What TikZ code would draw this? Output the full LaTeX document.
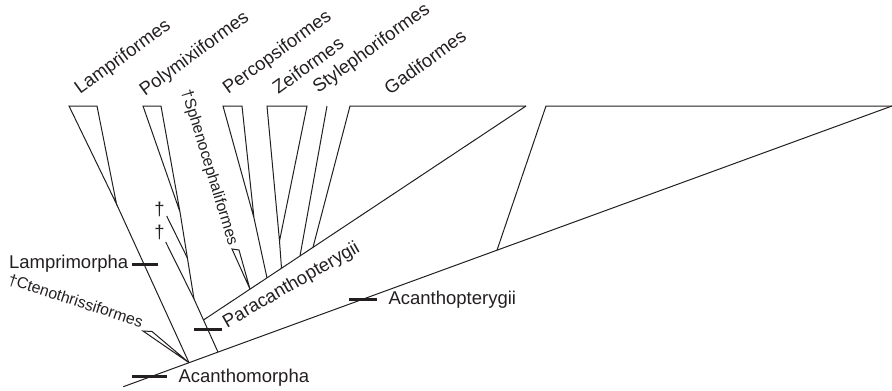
\documentclass[tikz,border=0pt]{standalone}
\usepackage{fontspec}
\setmainfont{Liberation Sans}
\definecolor{ink}{HTML}{231F20}
\begin{document}
\begin{tikzpicture}[x=1pt,y=-1pt,
  branch/.style={draw=ink,line width=1pt,line join=round},
  clade/.style={draw=ink,line width=1pt,line join=miter},
  bar/.style={draw=ink,line width=3pt},
  biglabel/.style={text=ink,inner sep=0pt,font=\fontsize{18.5}{20}\selectfont},
  smalllabel/.style={text=ink,inner sep=0pt,font=\fontsize{15.8}{17}\selectfont},
  toplabel/.style={biglabel,anchor=base west,rotate=36}]
\useasboundingbox (0,0) rectangle (892,391);
% backbone and main nodes
\coordinate (root) at (123.3,386.7);
\coordinate (acm) at (189,362.7);
\coordinate (pmx) at (218,352.1);
\coordinate (acp) at (497,250.2);
\coordinate (acptip) at (892,106);
\coordinate (acptl) at (546,106);
% Lampriformes
\coordinate (lamA) at (116.5,204);
\coordinate (lamL) at (69,106);
\coordinate (lamR) at (97,106);
% Ctenothrissiformes
\coordinate (ctnL) at (143,331);
\coordinate (ctnR) at (152,331.5);
% Polymixia lineage
\coordinate (pc) at (203.5,320);
\coordinate (dag2) at (194,299);
\coordinate (dag1) at (187.4,258);
\coordinate (polA) at (180,212);
\coordinate (polL) at (143,106);
\coordinate (polR) at (161,106);
\coordinate (d1end) at (166.7,216);
\coordinate (d2end) at (165.7,242);
% Paracanthopterygii
\coordinate (pctip) at (526,106);
\coordinate (sphA) at (250,289.1);
\coordinate (sphL) at (232,249);
\coordinate (sphR) at (239,250);
\coordinate (perB) at (267,277.9);
\coordinate (perA) at (254,218);
\coordinate (perL) at (223,106);
\coordinate (perR) at (242,106);
\coordinate (zeiB) at (281.5,268.2);
\coordinate (zeiA) at (279.5,241);
\coordinate (zeiL) at (267,106);
\coordinate (zeiR) at (307,106);
\coordinate (styB) at (300,256);
\coordinate (styT) at (327,106);
\coordinate (gadB) at (313,247.3);
\coordinate (gadL) at (350,106);
% bars
\coordinate (b1a) at (131.7,264.3); \coordinate (b1b) at (158.3,264.3);
\coordinate (b2a) at (194.3,329);   \coordinate (b2b) at (221.7,329);
\coordinate (b3a) at (349,299);     \coordinate (b3b) at (376.7,299);
\coordinate (b4a) at (132.3,376);   \coordinate (b4b) at (166.7,376);

% backbone
\draw[branch] (root) -- (acm) -- (pmx) -- (acp) -- (acptip);
\draw[clade] (acp) -- (acptl) -- (acptip);
% Lamprimorpha
\draw[branch] (acm) -- (lamA);
\draw[clade] (lamA) -- (lamL) -- (lamR) -- cycle;
\draw[clade] (acm) -- (ctnL) -- (ctnR) -- cycle;
% Polymixia lineage
\draw[branch] (pmx) -- (pc) -- (dag2) -- (dag1) -- (polA);
\draw[clade] (polA) -- (polL) -- (polR) -- cycle;
\draw[branch] (dag1) -- (d1end);
\draw[branch] (dag2) -- (d2end);
% Paracanthopterygii
\draw[branch] (pc) -- (pctip);
\draw[clade] (sphA) -- (sphL) -- (sphR) -- cycle;
\draw[branch] (perB) -- (perA);
\draw[clade] (perA) -- (perL) -- (perR) -- cycle;
\draw[branch] (zeiB) -- (zeiA);
\draw[clade] (zeiA) -- (zeiL) -- (zeiR) -- cycle;
\draw[branch] (styB) -- (styT);
\draw[clade] (gadB) -- (gadL) -- (pctip);
% bars
\draw[bar] (b1a) -- (b1b);
\draw[bar] (b2a) -- (b2b);
\draw[bar] (b3a) -- (b3b);
\draw[bar] (b4a) -- (b4b);

% labels
\node[toplabel] (lLam) at (80,95) {Lampriformes};
\node[toplabel] (lPol) at (145,96.5) {Polymixiiformes};
\node[toplabel] (lPer) at (228.3,95) {Percopsiformes};
\node[toplabel] (lZei) at (278.3,95) {Zeiformes};
\node[toplabel] (lSty) at (318.3,93.5) {Stylephoriformes};
\node[toplabel] (lGad) at (390,95.5) {Gadiformes};
\node[smalllabel,anchor=base west,rotate=-73] (lSph) at (181.5,91.5) {†Sphenocephaliformes};
\node[smalllabel,anchor=base west,rotate=-18] (lCtn) at (7,284) {†Ctenothrissiformes};
\node[biglabel,anchor=center] (dg1) at (159.5,209.5) {†};
\node[biglabel,anchor=center] (dg2) at (159.5,232.5) {†};
\node[biglabel,anchor=base east] (lLpm) at (128.5,268.3) {Lamprimorpha};
\node[biglabel,anchor=base west,rotate=30] (lPc) at (227,328.3) {Paracanthopterygii};
\node[biglabel,anchor=base west] (lAcp) at (388.3,304) {Acanthopterygii};
\node[biglabel,anchor=base west] (lAcm) at (178.3,382.3) {Acanthomorpha};
\end{tikzpicture}
\end{document}
